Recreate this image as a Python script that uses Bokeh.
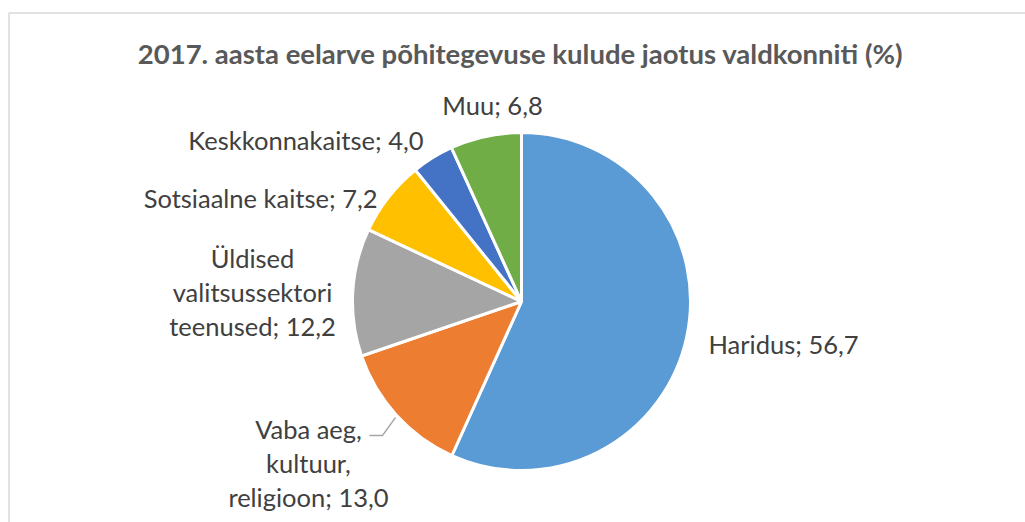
import math
from bokeh.plotting import figure
from bokeh.models import Range1d, ColumnDataSource
from bokeh.core.properties import value
from bokeh.embed import file_html
from bokeh.resources import INLINE

# ---------------- data ----------------
title = "2017. aasta eelarve põhitegevuse kulude jaotus valdkonniti (%)"
categories = ["Haridus", "Vaba aeg, kultuur, religioon", "Üldised valitsussektori teenused",
              "Sotsiaalne kaitse", "Keskkonnakaitse", "Muu"]
label_lines = [["Haridus"], ["Vaba aeg,", "kultuur,", "religioon"], ["Üldised", "valitsussektori", "teenused"],
               ["Sotsiaalne kaitse"], ["Keskkonnakaitse"], ["Muu"]]
values = [56.7, 13.0, 12.2, 7.2, 4.0, 6.8]
colors = ["#5B9BD5", "#ED7D31", "#A5A5A5", "#FFC000", "#4472C4", "#70AD47"]

# ---------------- layout (screen px, y down) ----------------
W, H = 1025, 522
CX, CY, R = 521, 301, 169
# label anchor: (x, y of first line centre, align)
label_layout = [(708, 343, "left"), (308, 428, "center"), (252, 257, "center"),
                (377, 197, "right"), (423, 139, "right"), (492, 104, "center")]
LINE_H = 34
FONT = "Lato"

def sy(y):
    return H - y

p = figure(width=W, height=H, x_range=Range1d(0, W), y_range=Range1d(0, H),
           output_backend="svg", toolbar_location=None, min_border=0,
           x_axis_location=None, y_axis_location=None, outline_line_color=None,
           background_fill_color="white", border_fill_color="white")
p.xgrid.visible = False
p.ygrid.visible = False

# chart border
p.quad(left=[8.5], right=[1100], top=[sy(12.5)], bottom=[-50], fill_color=None,
       line_color="#D9D9D9", line_width=1.5)

# wedges (clockwise from 12 o'clock)
total = sum(values)
starts, ends = [], []
acc = 0.0
for v in values:
    a0 = math.pi / 2 - 2 * math.pi * acc / total
    acc += v
    a1 = math.pi / 2 - 2 * math.pi * acc / total
    starts.append(a0)
    ends.append(a1)
src = ColumnDataSource(dict(x=[CX] * len(values), y=[sy(CY)] * len(values),
                            start=starts, end=ends, color=colors))
p.wedge(x="x", y="y", radius=R, start_angle="start", end_angle="end", direction="clock",
        fill_color="color", line_color="white", line_width=3, source=src)

# leader line for "Vaba aeg"
p.line(x=[369, 382, 395], y=[sy(435), sy(435), sy(417)], line_color="#A6A6A6", line_width=1.3)

# labels
tx, ty, tt, ta = [], [], [], []
for lines, v, (lx, ly, al) in zip(label_lines, values, label_layout):
    txt_lines = list(lines)
    txt_lines[-1] = txt_lines[-1] + "; " + f"{v:.1f}".replace(".", ",")
    for i, s in enumerate(txt_lines):
        tx.append(lx)
        ty.append(sy(ly + i * LINE_H))
        tt.append(s)
        ta.append(al)
lsrc = ColumnDataSource(dict(x=tx, y=ty, text=tt, align=ta))
p.text(x="x", y="y", text="text", text_align="align", text_baseline="middle",
       text_font=value(FONT), text_font_size="25.5px", text_color="#404040", source=lsrc)

# title
p.text(x=[520], y=[sy(53)], text=[title], text_align="center", text_baseline="middle",
       text_font=value(FONT), text_font_style="bold", text_font_size="27.5px", text_color="#595959")

open("out.html", "w").write(file_html(p, INLINE))
